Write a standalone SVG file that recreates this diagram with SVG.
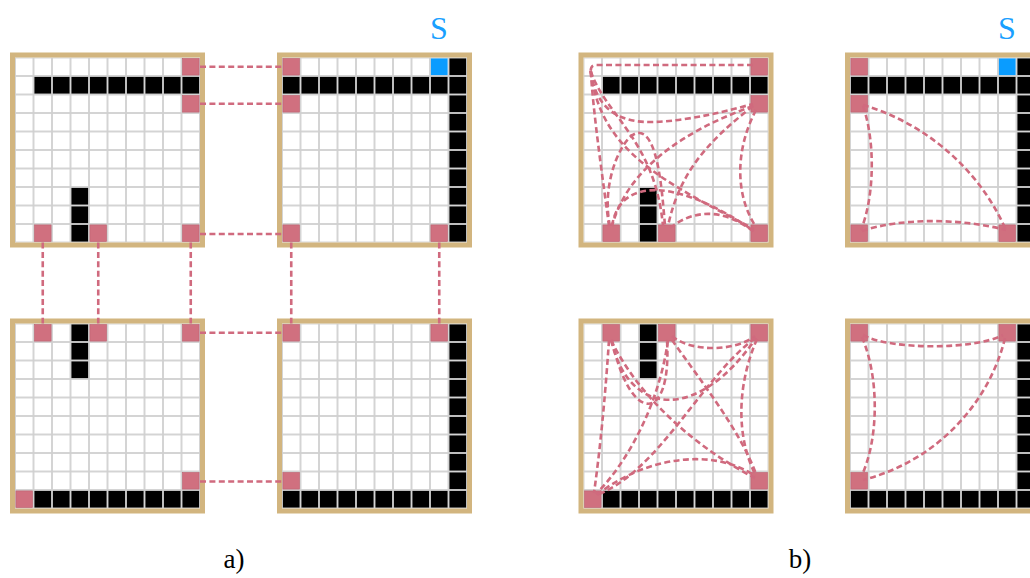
<svg xmlns="http://www.w3.org/2000/svg" xmlns:xlink="http://www.w3.org/1999/xlink" width="1030" height="578" viewBox="0 0 1030 578">
<style>
.bg{fill:#d0d0d0}
.frame{fill:none;stroke:#d2b57f;stroke-width:5}
.k{fill:#000}
.p{fill:#d0707f;stroke:#b9606e;stroke-width:0.6}
.s{fill:#0a9cff}
.e{fill:none;stroke:#d06a7e;stroke-width:2.6;stroke-dasharray:6 3.4}
.lbl{font-family:"Liberation Serif","DejaVu Serif",serif;fill:#000}
.slbl{font-family:"Liberation Serif","DejaVu Serif",serif;fill:#1a9fff}
</style>
<defs>
<pattern id="cells" width="18.5" height="18.5" patternUnits="userSpaceOnUse">
<rect x="0.9" y="0.9" width="16.7" height="16.7" fill="#fff"/>
</pattern>
<g id="base">
<rect class="bg" x="0" y="0" width="185" height="185"/>
<rect x="0" y="0" width="185" height="185" fill="url(#cells)"/>
<rect class="frame" x="-2.5" y="-2.5" width="190" height="190"/>
</g>
<g id="L1">
<use xlink:href="#base"/>
<g class="k">
<rect x="19.4" y="19.4" width="16.7" height="16.7"/><rect x="37.9" y="19.4" width="16.7" height="16.7"/><rect x="56.4" y="19.4" width="16.7" height="16.7"/><rect x="74.9" y="19.4" width="16.7" height="16.7"/><rect x="93.4" y="19.4" width="16.7" height="16.7"/><rect x="111.9" y="19.4" width="16.7" height="16.7"/><rect x="130.4" y="19.4" width="16.7" height="16.7"/><rect x="148.9" y="19.4" width="16.7" height="16.7"/><rect x="167.4" y="19.4" width="16.7" height="16.7"/>
<rect x="56.4" y="130.4" width="16.7" height="16.7"/><rect x="56.4" y="148.9" width="16.7" height="16.7"/><rect x="56.4" y="167.4" width="16.7" height="16.7"/>
</g>
<g class="p">
<rect x="167.4" y="0.9" width="16.7" height="16.7"/><rect x="167.4" y="37.9" width="16.7" height="16.7"/><rect x="19.4" y="167.4" width="16.7" height="16.7"/><rect x="74.9" y="167.4" width="16.7" height="16.7"/><rect x="167.4" y="167.4" width="16.7" height="16.7"/>
</g>
</g>
<g id="L2">
<use xlink:href="#base"/>
<g class="k">
<rect x="0.9" y="19.4" width="16.7" height="16.7"/><rect x="19.4" y="19.4" width="16.7" height="16.7"/><rect x="37.9" y="19.4" width="16.7" height="16.7"/><rect x="56.4" y="19.4" width="16.7" height="16.7"/><rect x="74.9" y="19.4" width="16.7" height="16.7"/><rect x="93.4" y="19.4" width="16.7" height="16.7"/><rect x="111.9" y="19.4" width="16.7" height="16.7"/><rect x="130.4" y="19.4" width="16.7" height="16.7"/><rect x="148.9" y="19.4" width="16.7" height="16.7"/>
<rect x="167.4" y="0.9" width="16.7" height="16.7"/><rect x="167.4" y="19.4" width="16.7" height="16.7"/><rect x="167.4" y="37.9" width="16.7" height="16.7"/><rect x="167.4" y="56.4" width="16.7" height="16.7"/><rect x="167.4" y="74.9" width="16.7" height="16.7"/><rect x="167.4" y="93.4" width="16.7" height="16.7"/><rect x="167.4" y="111.9" width="16.7" height="16.7"/><rect x="167.4" y="130.4" width="16.7" height="16.7"/><rect x="167.4" y="148.9" width="16.7" height="16.7"/><rect x="167.4" y="167.4" width="16.7" height="16.7"/>
</g>
<rect class="s" x="148.9" y="0.9" width="16.7" height="16.7"/>
<g class="p">
<rect x="0.9" y="0.9" width="16.7" height="16.7"/><rect x="0.9" y="37.9" width="16.7" height="16.7"/><rect x="0.9" y="167.4" width="16.7" height="16.7"/><rect x="148.9" y="167.4" width="16.7" height="16.7"/>
</g>
</g>
<g id="L3">
<use xlink:href="#base"/>
<g class="k">
<rect x="56.4" y="0.9" width="16.7" height="16.7"/><rect x="56.4" y="19.4" width="16.7" height="16.7"/><rect x="56.4" y="37.9" width="16.7" height="16.7"/>
<rect x="19.4" y="167.4" width="16.7" height="16.7"/><rect x="37.9" y="167.4" width="16.7" height="16.7"/><rect x="56.4" y="167.4" width="16.7" height="16.7"/><rect x="74.9" y="167.4" width="16.7" height="16.7"/><rect x="93.4" y="167.4" width="16.7" height="16.7"/><rect x="111.9" y="167.4" width="16.7" height="16.7"/><rect x="130.4" y="167.4" width="16.7" height="16.7"/><rect x="148.9" y="167.4" width="16.7" height="16.7"/><rect x="167.4" y="167.4" width="16.7" height="16.7"/>
</g>
<g class="p">
<rect x="19.4" y="0.9" width="16.7" height="16.7"/><rect x="74.9" y="0.9" width="16.7" height="16.7"/><rect x="167.4" y="0.9" width="16.7" height="16.7"/><rect x="167.4" y="148.9" width="16.7" height="16.7"/><rect x="0.9" y="167.4" width="16.7" height="16.7"/>
</g>
</g>
<g id="L4">
<use xlink:href="#base"/>
<g class="k">
<rect x="167.4" y="0.9" width="16.7" height="16.7"/><rect x="167.4" y="19.4" width="16.7" height="16.7"/><rect x="167.4" y="37.9" width="16.7" height="16.7"/><rect x="167.4" y="56.4" width="16.7" height="16.7"/><rect x="167.4" y="74.9" width="16.7" height="16.7"/><rect x="167.4" y="93.4" width="16.7" height="16.7"/><rect x="167.4" y="111.9" width="16.7" height="16.7"/><rect x="167.4" y="130.4" width="16.7" height="16.7"/><rect x="167.4" y="148.9" width="16.7" height="16.7"/><rect x="167.4" y="167.4" width="16.7" height="16.7"/>
<rect x="0.9" y="167.4" width="16.7" height="16.7"/><rect x="19.4" y="167.4" width="16.7" height="16.7"/><rect x="37.9" y="167.4" width="16.7" height="16.7"/><rect x="56.4" y="167.4" width="16.7" height="16.7"/><rect x="74.9" y="167.4" width="16.7" height="16.7"/><rect x="93.4" y="167.4" width="16.7" height="16.7"/><rect x="111.9" y="167.4" width="16.7" height="16.7"/><rect x="130.4" y="167.4" width="16.7" height="16.7"/><rect x="148.9" y="167.4" width="16.7" height="16.7"/>
</g>
<g class="p">
<rect x="0.9" y="0.9" width="16.7" height="16.7"/><rect x="148.9" y="0.9" width="16.7" height="16.7"/><rect x="0.9" y="148.9" width="16.7" height="16.7"/>
</g>
</g>
</defs>
<rect width="1030" height="578" fill="#fff"/>
<g id="panel-a1" transform="translate(15,57.5)"><use xlink:href="#L1"/></g>
<g id="panel-a2" transform="translate(282,57.5)"><use xlink:href="#L2"/></g>
<g id="panel-a3" transform="translate(15,323.5)"><use xlink:href="#L3"/></g>
<g id="panel-a4" transform="translate(282,323.5)"><use xlink:href="#L4"/></g>
<g id="panel-b1" transform="translate(583.5,57.5)"><use xlink:href="#L1"/></g>
<g id="panel-b2" transform="translate(850,57.5)"><use xlink:href="#L2"/></g>
<g id="panel-b3" transform="translate(583.5,323.5)"><use xlink:href="#L3"/></g>
<g id="panel-b4" transform="translate(850,323.5)"><use xlink:href="#L4"/></g>
<g id="connectors" class="e">
<path d="M200,66.75 H282"/>
<path d="M200,103.75 H282"/>
<path d="M200,234 H282"/>
<path d="M42.75,242.5 V323.5"/>
<path d="M98.25,242.5 V323.5"/>
<path d="M190.75,242.5 V323.5"/>
<path d="M291.25,242.5 V323.5"/>
<path d="M439.25,242.5 V323.5"/>
<path d="M200,332.75 H282"/>
<path d="M200,481.5 H282"/>
<path d="M753,65 H596 Q590.7,65 590.7,71"/>
<path d="M590.7,71 C596,110 620,123 653,122 C690,121 730,110 753,104"/>
<path d="M590.7,71 C594,120 603,180 609,226"/>
<path d="M590.7,71 C605,115 655,140 663,226"/>
<path d="M590.7,71 C600,150 660,180 754,229"/>
<path d="M753,106 C700,125 630,160 612,226"/>
<path d="M753,106 C710,140 680,170 668,226"/>
<path d="M756,110 C735,150 735,195 756,227"/>
<path d="M610,226 C600,180 625,130 640,133 C658,136 662,190 665,226"/>
<path d="M612,226 C620,175 680,180 754,231"/>
<path d="M670,228 C690,212 720,205 754,232"/>
<path d="M863,106 C875,140 875,195 861,230"/>
<path d="M863,105 C915,120 975,160 1006,230"/>
<path d="M862,231 C900,218 960,218 1006,230"/>
<path d="M672,336 C690,352 735,352 755,336"/>
<path d="M609,340 C605,400 600,450 594,493"/>
<path d="M612,340 C630,425 672,425 667,340"/>
<path d="M611,340 C630,420 700,420 756,338"/>
<path d="M611,340 C640,400 700,450 755,478"/>
<path d="M668,340 C660,400 630,460 596,494"/>
<path d="M672,340 C700,380 740,430 756,474"/>
<path d="M755,338 C700,380 660,470 597,495"/>
<path d="M757,339 C735,390 738,440 755,474"/>
<path d="M597,495 C640,460 710,445 755,476"/>
<path d="M863,335 C890,350 975,350 1003,335"/>
<path d="M862,337 C880,380 878,440 862,475"/>
<path d="M1005,338 C990,400 940,460 863,480"/>
</g>
<text class="slbl" x="439" y="39" font-size="32" text-anchor="middle">S</text>
<text class="slbl" x="1007" y="39" font-size="32" text-anchor="middle">S</text>
<text class="lbl" x="234" y="568" font-size="27" text-anchor="middle">a)</text>
<text class="lbl" x="800" y="568" font-size="27" text-anchor="middle">b)</text>
</svg>
